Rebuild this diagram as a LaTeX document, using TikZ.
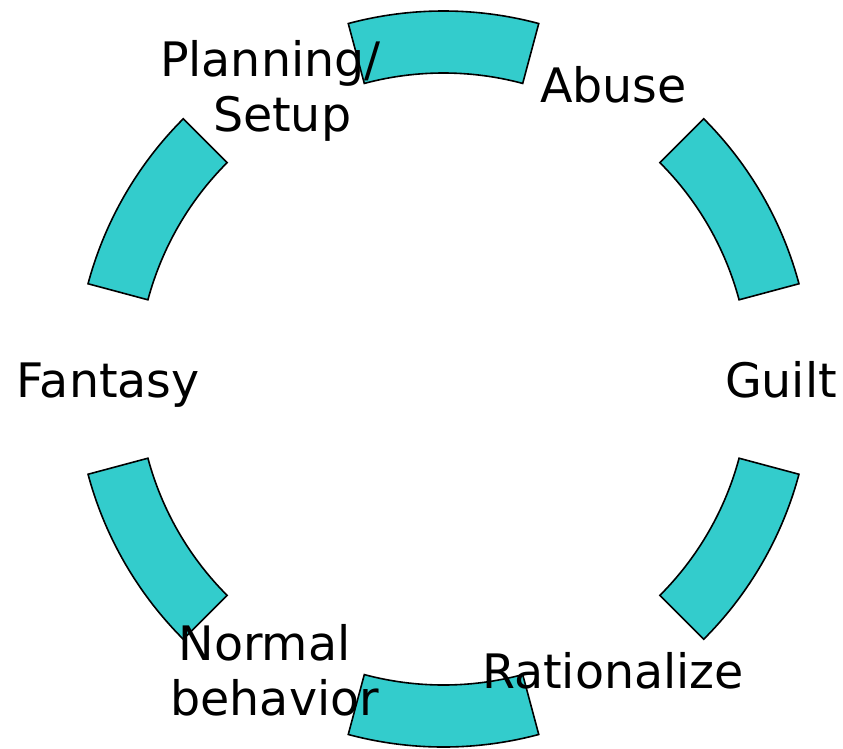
\documentclass[tikz,border=0pt]{standalone}
\usepackage{fontspec}
\setmainfont{DejaVu Sans}
\definecolor{segteal}{HTML}{33CCCC}
\tikzset{
  seg/.style={fill=segteal, draw=black, line width=1.6pt, line join=miter},
  lab/.style={inner sep=0pt, outer sep=0pt, font=\fontsize{47.5}{55}\selectfont, text=black},
  lab2/.style={lab, align=left}
}
\begin{document}
\begin{tikzpicture}
\useasboundingbox (0pt,0pt) rectangle (843pt,-748pt);
\coordinate (c) at (443.5pt,-379pt);
% segments
\foreach \a in {15,75,135,195,255,315}{
  \pgfmathsetmacro{\b}{\a+30}
  \draw[seg] ([shift={(c)}]\a:368pt) arc[start angle=\a, end angle=\b, radius=368pt]
    -- ([shift={(c)}]\b:306pt) arc[start angle=\b, end angle=\a, radius=306pt] -- cycle;
}
% labels
\node[lab, anchor=base] (abuse) at (613.5pt,-102pt) {Abuse};
\node[lab, anchor=base] (guilt) at (781pt,-397pt) {Guilt};
\node[lab, anchor=base] (fantasy) at (108.3pt,-397pt) {Fantasy};
\node[lab, anchor=base] (ration) at (613pt,-688pt) {Rationalize};
\node[lab2, anchor=base west] (plan) at (160pt,-131.7pt) {Planning/\\\hspace*{53pt}Setup};
\node[lab2, anchor=base west] (normal) at (170.5pt,-715pt) {\hspace*{8pt}Normal\\behavior};
\end{tikzpicture}
\end{document}
